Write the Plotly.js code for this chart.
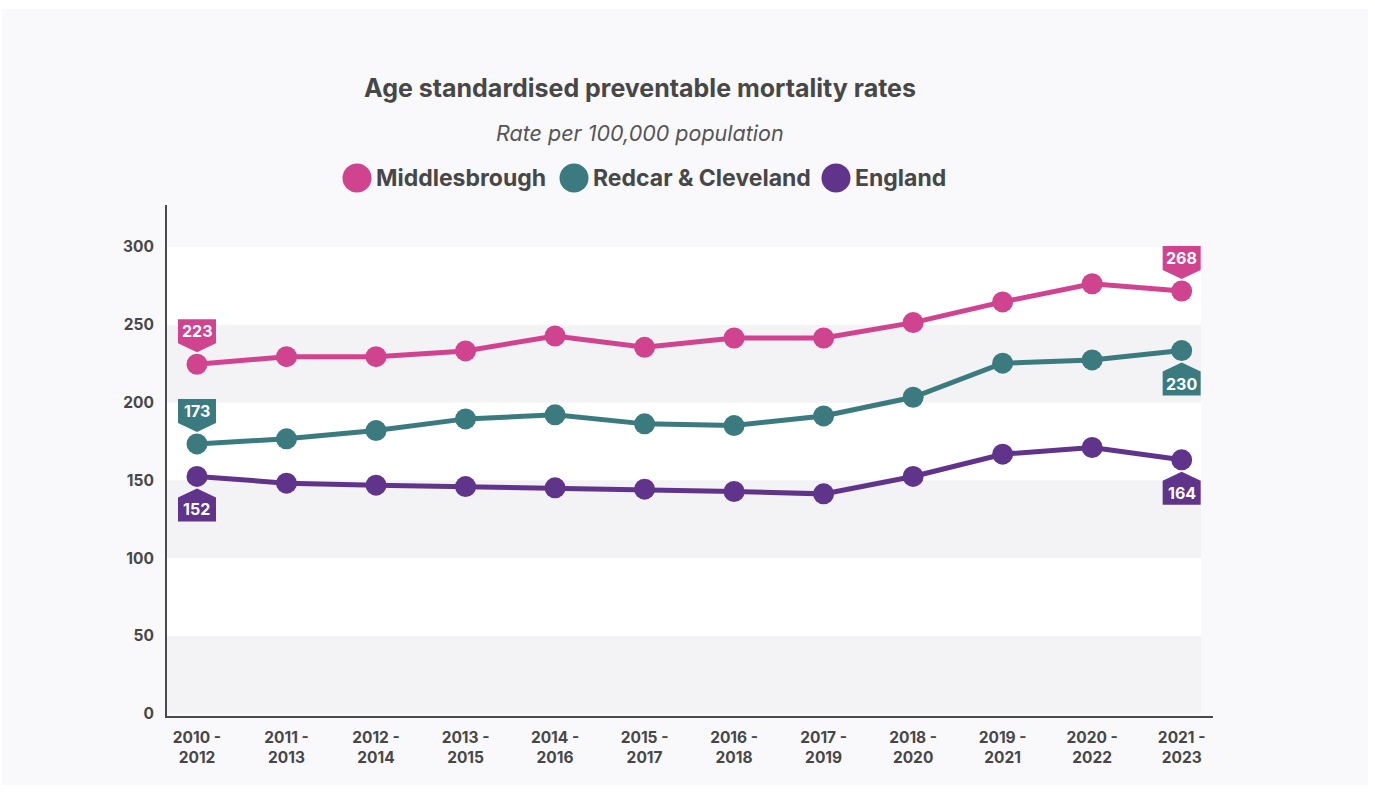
<!DOCTYPE html>
<html>
<head>
<meta charset="utf-8">
<script src="https://cdn.plot.ly/plotly-3.0.1.min.js"></script>
<style>
html,body{margin:0;padding:0;background:#ffffff;}
#chart{width:1375px;height:792px;}
</style>
</head>
<body>
<div id="chart"></div>
<script>
// ---- data ----
const categories = ['2010 -<br>2012','2011 -<br>2013','2012 -<br>2014','2013 -<br>2015','2014 -<br>2016','2015 -<br>2017','2016 -<br>2018','2017 -<br>2019','2018 -<br>2020','2019 -<br>2021','2020 -<br>2022','2021 -<br>2023'];
const seriesNames = ['Middlesbrough', 'Redcar & Cleveland', 'England'];
const middlesbrough = [224.6, 229.5, 229.5, 233.2, 242.8, 235.5, 241.5, 241.5, 251.4, 264.7, 276.4, 271.7];
const redcar = [173.4, 176.7, 182.0, 189.5, 192.1, 186.3, 185.2, 191.4, 203.4, 225.3, 227.4, 233.4];
const england = [152.5, 148.2, 146.9, 146.0, 145.2, 144.3, 142.8, 141.3, 152.5, 166.8, 171.1, 163.2];
const firstLabels = ['223', '173', '152'];
const lastLabels = ['268', '230', '164'];
const yTicks = [0, 50, 100, 150, 200, 250, 300];
const titleText = 'Age standardised preventable mortality rates';
const subtitleText = 'Rate per 100,000 population';

// ---- style ----
const colors = ['#d0448f', '#3b7b7f', '#60348a'];
const FONT = 'Inter, "Open Sans", sans-serif';
const TXT = '#474747';
const W = 1375, H = 792;
const M = {l: 167, r: 162, t: 205, b: 76};
const PW = W - M.l - M.r, PH = H - M.t - M.b;
const px = p => (p - M.l) / PW;
const py = p => (M.t + PH - p) / PH;

const xIdx = categories.map((_, i) => i);
const allSeries = [middlesbrough, redcar, england];

const traces = allSeries.map((vals, k) => ({
  type: 'scatter', mode: 'lines+markers',
  x: xIdx, y: vals, name: seriesNames[k],
  line: {color: colors[k], width: 5},
  marker: {color: colors[k], size: 21},
  showlegend: false, hoverinfo: 'x+y'
}));

const shapes = [];
const annotations = [];

// card
shapes.push({type: 'rect', xref: 'paper', yref: 'paper', layer: 'below',
  x0: px(2), x1: px(1368), y0: py(785), y1: py(9),
  fillcolor: '#f9f9fb', line: {width: 0}});

// alternating bands
for (let i = 0; i < yTicks.length - 1; i++) {
  shapes.push({type: 'rect', xref: 'paper', yref: 'y', layer: 'below',
    x0: 0, x1: px(1201), y0: yTicks[i], y1: yTicks[i + 1],
    fillcolor: (i % 2 === 0) ? '#f3f2f5' : '#ffffff', line: {width: 0}});
}

// callouts: above (dir=1) or below (dir=-1)
function callout(k, idx, label, dir) {
  const v = allSeries[k][idx];
  const s = dir;
  shapes.push({type: 'path', xref: 'x', yref: 'y', xsizemode: 'pixel', ysizemode: 'pixel',
    xanchor: idx, yanchor: v, layer: 'above',
    path: `M -19 ${45 * s} L 19 ${45 * s} L 19 ${21 * s} L 0 ${12 * s} L -19 ${21 * s} Z`,
    fillcolor: colors[k], line: {width: 0}});
  annotations.push({x: idx, y: v, xref: 'x', yref: 'y', text: '<b>' + label + '</b>',
    showarrow: false, yshift: 33 * s, font: {family: FONT, size: 16, color: '#ffffff'}});
}
const last = categories.length - 1;
callout(0, 0, firstLabels[0], 1);
callout(1, 0, firstLabels[1], 1);
callout(2, 0, firstLabels[2], -1);
callout(0, last, lastLabels[0], 1);
callout(1, last, lastLabels[1], -1);
callout(2, last, lastLabels[2], -1);

// subtitle
annotations.push({xref: 'paper', yref: 'paper', x: px(640), y: py(133), text: '<i>' + subtitleText + '</i>',
  showarrow: false, xanchor: 'center', yanchor: 'middle', font: {family: FONT, size: 21.5, color: '#555555'}});

// legend (manual)
const legendCircleX = [357, 574, 836];
seriesNames.forEach((n, k) => {
  shapes.push({type: 'circle', xref: 'paper', yref: 'paper', xsizemode: 'pixel', ysizemode: 'pixel',
    xanchor: px(legendCircleX[k]), yanchor: py(178), x0: -14.5, x1: 14.5, y0: -14.5, y1: 14.5,
    fillcolor: colors[k], line: {width: 0}});
  annotations.push({xref: 'paper', yref: 'paper', x: px(legendCircleX[k] + 17), y: py(178),
    text: '<b>' + n + '</b>', showarrow: false, xanchor: 'left', yanchor: 'middle',
    font: {family: FONT, size: 23, color: TXT}});
});

const layout = {
  width: W, height: H,
  margin: M,
  paper_bgcolor: '#ffffff', plot_bgcolor: 'rgba(0,0,0,0)',
  font: {family: FONT, color: TXT},
  title: {text: '<b>' + titleText + '</b>', xref: 'container', yref: 'container',
    x: 640 / W, y: 1 - 88 / H, xanchor: 'center', yanchor: 'middle',
    font: {family: FONT, size: 25, color: TXT}},
  showlegend: false,
  xaxis: {range: [-0.335, 11.35], tickvals: xIdx, ticktext: categories.map(c => '<b>' + c + '</b>'),
    showline: true, linecolor: '#4a4a4a', linewidth: 2, ticks: '', showgrid: false, zeroline: false,
    tickfont: {family: FONT, size: 15.5, color: TXT}, ticklabelstandoff: 6, fixedrange: true},
  yaxis: {range: [-1.5, 327], tickvals: yTicks, ticktext: yTicks.map(t => '<b>' + t + '</b>'),
    showline: true, linecolor: '#4a4a4a', linewidth: 2, ticks: '', showgrid: false, zeroline: false,
    tickfont: {family: FONT, size: 15.5, color: TXT}, ticklabelstandoff: 8, fixedrange: true},
  shapes: shapes,
  annotations: annotations
};

Plotly.newPlot('chart', traces, layout, {displayModeBar: false, staticPlot: true});
</script>
</body>
</html>
